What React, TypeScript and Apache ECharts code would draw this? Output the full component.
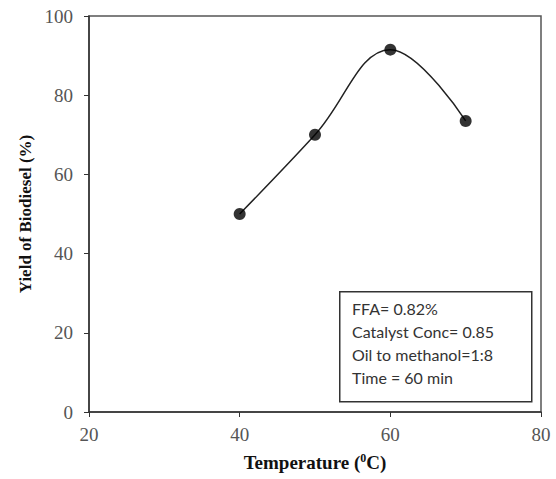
import React, { useEffect, useRef } from "react";
import * as echarts from "echarts";

const temperatures = [40, 50, 60, 70];
const yields = [50, 70, 91.5, 73.5];
const xTicks = [20, 40, 60, 80];
const yTicks = [0, 20, 40, 60, 80, 100];
const noteLines = ["FFA= 0.82%", "Catalyst Conc= 0.85", "Oil to methanol=1:8", "Time = 60 min"];

export default function App() {
  const ref = useRef<HTMLDivElement>(null);
  useEffect(() => {
    if (!ref.current) return;
    const chart = echarts.init(ref.current, null, { renderer: "svg" });
    const pts = temperatures.map((t, i) => [t, yields[i]]);
    chart.setOption({
      animation: false,
      backgroundColor: "#fff",
      grid: {
        left: 89,
        top: 16,
        right: 15,
        bottom: 67,
        show: true,
        borderColor: "#555",
        borderWidth: 1.5,
      },
      xAxis: {
        type: "value",
        min: xTicks[0],
        max: xTicks[xTicks.length - 1],
        interval: 20,
        name: "Temperature ({sup|0}C)",
        nameLocation: "middle",
        nameGap: 40,
        nameTextStyle: {
          fontFamily: "Liberation Serif",
          fontWeight: "bold",
          fontSize: 19,
          color: "#111",
          rich: {
            sup: { fontSize: 12, fontWeight: "bold", verticalAlign: "top", padding: [0, 0, 9, 0], fontFamily: "Liberation Serif", color: "#111" },
          },
        },
        axisLine: { lineStyle: { color: "#333", width: 1.5 } },
        axisTick: { inside: false, length: 5, lineStyle: { color: "#333" } },
        axisLabel: { fontFamily: "Liberation Serif", fontSize: 19, color: "#555", margin: 13 },
        splitLine: { show: false },
      },
      yAxis: {
        type: "value",
        min: yTicks[0],
        max: yTicks[yTicks.length - 1],
        interval: 20,
        name: "Yield of Biodiesel (%)",
        nameLocation: "middle",
        nameGap: 54,
        nameTextStyle: {
          fontFamily: "Liberation Serif",
          fontWeight: "bold",
          fontSize: 17,
          color: "#111",
        },
        axisLine: { lineStyle: { color: "#333", width: 1.5 } },
        axisTick: { inside: false, length: 5, lineStyle: { color: "#333" } },
        axisLabel: { fontFamily: "Liberation Serif", fontSize: 19, color: "#555", margin: 16 },
        splitLine: { show: false },
      },
      series: [
        {
          type: "line",
          data: pts,
          smooth: 0.4,
          showSymbol: false,
          lineStyle: { color: "#222", width: 1.5 },
          z: 2,
        },
        {
          type: "scatter",
          data: pts,
          symbol: "circle",
          symbolSize: 12,
          itemStyle: { color: "#000" },
          z: 3,
        },
      ],
      graphic: [
        {
          type: "rect",
          left: 339,
          top: 291,
          shape: { width: 192, height: 110 },
          style: { fill: "#fff", stroke: "#333", lineWidth: 1.5 },
          z: 10,
        },
        ...noteLines.map((t, i) => ({
          type: "text",
          left: 352,
          top: 300 + i * 23.3,
          style: { text: t, fontFamily: "Lato", fontSize: 16, fill: "#333" },
          z: 11,
        })),
      ],
    });
    return () => chart.dispose();
  }, []);
  return <div ref={ref} style={{ position: "absolute", left: 0, top: 0, width: 556, height: 479 }} />;
}
